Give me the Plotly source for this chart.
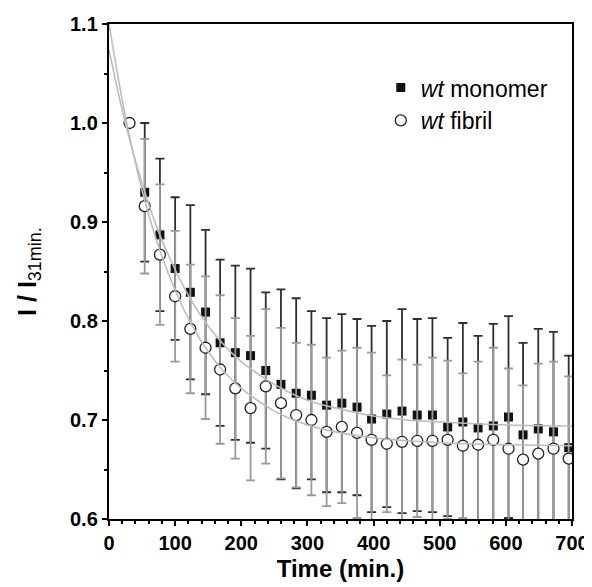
import plotly.graph_objects as go

# Time points (min)
time = [31, 54, 77, 100, 123, 146, 168, 191, 214, 237, 260, 283, 306, 329, 352,
        375, 397, 420, 443, 466, 489, 512, 535, 558, 581, 604, 626, 649, 672, 695]

# wt monomer (normalized intensity) and error
monomer = [1.000, 0.930, 0.887, 0.853, 0.829, 0.809, 0.778, 0.768, 0.765, 0.750,
           0.736, 0.727, 0.725, 0.715, 0.717, 0.713, 0.701, 0.706, 0.709, 0.705,
           0.705, 0.693, 0.698, 0.692, 0.694, 0.703, 0.685, 0.691, 0.688, 0.672]
monomer_err = [0.0, 0.070, 0.077, 0.072, 0.088, 0.083, 0.084, 0.088, 0.088, 0.079,
               0.096, 0.096, 0.085, 0.088, 0.090, 0.089, 0.094, 0.094, 0.103, 0.097,
               0.098, 0.090, 0.100, 0.093, 0.103, 0.102, 0.093, 0.101, 0.101, 0.093]

# wt fibril
fibril = [1.000, 0.916, 0.867, 0.825, 0.792, 0.773, 0.751, 0.732, 0.712, 0.734,
          0.717, 0.705, 0.700, 0.688, 0.693, 0.687, 0.680, 0.676, 0.678, 0.679,
          0.679, 0.680, 0.674, 0.675, 0.680, 0.671, 0.660, 0.666, 0.671, 0.661]
fibril_err = [0.0, 0.068, 0.071, 0.066, 0.065, 0.072, 0.075, 0.071, 0.073, 0.078,
              0.076, 0.073, 0.076, 0.075, 0.077, 0.086, 0.088, 0.069, 0.083, 0.077,
              0.084, 0.080, 0.073, 0.084, 0.093, 0.081, 0.075, 0.091, 0.088, 0.083]

# Fit curves
fit_time = [0, 25, 50, 75, 100, 125, 150, 175, 200, 250, 300, 350, 400, 450, 500, 600, 700]
fit_monomer = [1.074, 0.999, 0.939, 0.890, 0.852, 0.820, 0.795, 0.775, 0.759, 0.736,
               0.720, 0.711, 0.704, 0.700, 0.698, 0.695, 0.694]
fit_fibril = [1.100, 1.006, 0.932, 0.875, 0.831, 0.796, 0.769, 0.748, 0.732, 0.709,
              0.695, 0.687, 0.682, 0.679, 0.677, 0.675, 0.674]

x_ticks = [0, 100, 200, 300, 400, 500, 600, 700]
y_ticks = [0.6, 0.7, 0.8, 0.9, 1.0, 1.1]

FONT = "Liberation Sans, Arial, sans-serif"

fig = go.Figure()

fig.add_trace(go.Scatter(
    x=time, y=monomer, mode="markers", name="<i>wt</i> monomer",
    marker=dict(symbol="square", size=9, color="#111111", line=dict(width=0)),
    error_y=dict(type="data", array=monomer_err, visible=True, color="#2e2e2e",
                 thickness=1.8, width=4.5),
    legendgroup="a",
))
fig.add_trace(go.Scatter(
    x=time, y=fibril, mode="markers", name="<i>wt</i> fibril",
    marker=dict(symbol="circle", size=11, color="white", line=dict(width=1.3, color="#222222")),
    error_y=dict(type="data", array=fibril_err, visible=True, color="#9a9a9a",
                 thickness=1.8, width=4.5),
    legendgroup="b",
))
fig.add_trace(go.Scatter(
    x=fit_time, y=fit_monomer, mode="lines", line=dict(color="#bdbdbd", width=1.6, shape="spline"),
    showlegend=False, hoverinfo="skip",
))
fig.add_trace(go.Scatter(
    x=fit_time, y=fit_fibril, mode="lines", line=dict(color="#bdbdbd", width=1.6, shape="spline"),
    showlegend=False, hoverinfo="skip",
))

axis_common = dict(
    showline=True, linewidth=2.4, linecolor="black", mirror=True,
    showgrid=False, zeroline=False, automargin=False,
    ticks="outside", ticklen=5, tickwidth=2, tickcolor="black",
    tickfont=dict(family=FONT, size=20, color="black", weight="bold"),
)

fig.update_xaxes(
    range=[0, 700], tickvals=x_ticks, ticktext=[str(v) for v in x_ticks],
    minor=dict(dtick=20, ticks="outside", ticklen=3, tickwidth=2, tickcolor="black"),
    title=dict(text="Time (min.)", font=dict(family=FONT, size=24, color="black", weight="bold"),
               standoff=7),
    **axis_common,
)
fig.update_yaxes(
    range=[0.6, 1.1], tickvals=y_ticks, ticktext=[f"{v:.1f}" for v in y_ticks],
    minor=dict(dtick=0.05, tick0=0.6, ticks="outside", ticklen=3, tickwidth=2, tickcolor="black"),
    title=dict(text="I / I<sub><span style='font-size:18px;font-weight:normal'>31min.</span></sub>",
               font=dict(family=FONT, size=25, color="black", weight="bold"),
               standoff=26),
    **axis_common,
)

fig.update_layout(
    width=584, height=579,
    margin=dict(l=101, r=20, t=16, b=68),
    paper_bgcolor="white", plot_bgcolor="white",
    showlegend=True,
    legend=dict(x=0.587, y=0.915, xanchor="left", yanchor="top",
                bgcolor="rgba(0,0,0,0)", font=dict(family=FONT, size=23, color="black"),
                tracegroupgap=0, itemwidth=30),
)

fig.write_html("out.html")
